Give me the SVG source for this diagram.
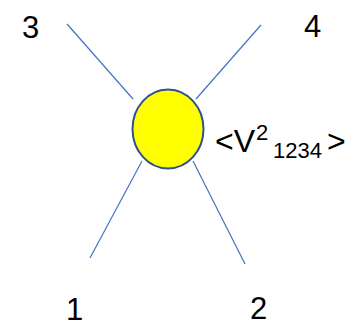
<svg xmlns="http://www.w3.org/2000/svg" width="358" height="326" viewBox="0 0 358 326">
<style>
.ln{stroke:#4472C4;stroke-width:1.2;fill:none}
.t{font-family:"Liberation Sans",Arial,sans-serif;fill:#000}
</style>
<rect width="358" height="326" fill="#fff"/>
<g id="connectors">
<line class="ln" x1="67" y1="24" x2="133" y2="99"/>
<line class="ln" x1="261" y1="25" x2="196" y2="99"/>
<line class="ln" x1="90" y1="258" x2="142" y2="161"/>
<line class="ln" x1="245" y1="264" x2="193" y2="161"/>
</g>
<g id="vertex">
<ellipse cx="168" cy="129" rx="35.5" ry="39.5" fill="#FFFF00" stroke="#2F528F" stroke-width="2"/>
<text class="t" font-size="32"><tspan x="215" y="152">&lt;V</tspan><tspan x="256" y="140" font-size="22">2</tspan><tspan x="273" y="158" font-size="22">1234</tspan><tspan x="327" y="152">&gt;</tspan></text>
</g>
<g id="n3"><text class="t" x="22" y="38" font-size="31">3</text></g>
<g id="n4"><text class="t" x="304" y="37" font-size="31">4</text></g>
<g id="n1"><text class="t" x="66" y="320" font-size="31">1</text></g>
<g id="n2"><text class="t" x="250" y="319" font-size="31">2</text></g>
</svg>
